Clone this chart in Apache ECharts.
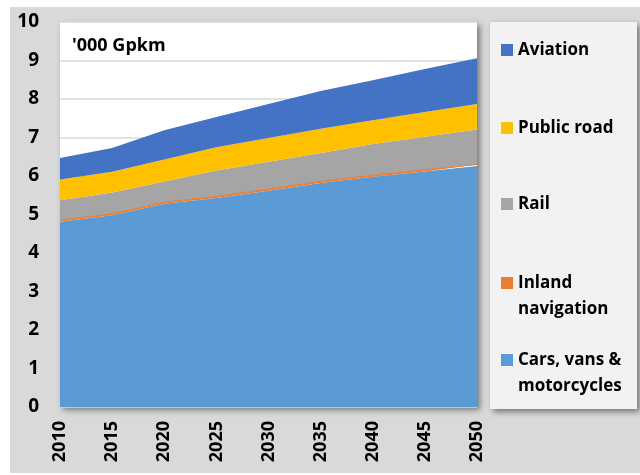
<!DOCTYPE html>
<html><head><meta charset="utf-8">
<script src="https://cdn.jsdelivr.net/npm/echarts@6/dist/echarts.min.js"></script>
<style>
html,body{margin:0;padding:0;background:#fff;}
#bg{position:absolute;left:10px;top:7px;width:630px;height:466px;background:#d9d9d9;}
#c{position:absolute;left:0;top:0;width:640px;height:475px;}
</style></head>
<body><div id="bg"></div><div id="c"></div>
<script>
const years = ['2010','2015','2020','2025','2030','2035','2040','2045','2050'];
const cars = [4.81, 4.98, 5.28, 5.43, 5.62, 5.82, 5.98, 6.12, 6.26];
const inland = [0.04, 0.04, 0.04, 0.04, 0.04, 0.04, 0.04, 0.04, 0.04];
const rail = [0.52, 0.55, 0.54, 0.67, 0.71, 0.74, 0.81, 0.86, 0.91];
const publicRoad = [0.54, 0.54, 0.57, 0.61, 0.62, 0.63, 0.62, 0.64, 0.66];
const aviation = [0.56, 0.62, 0.76, 0.78, 0.88, 0.98, 1.04, 1.12, 1.19];
const yTicks = [0,1,2,3,4,5,6,7,8,9,10];

const FONT = '"Open Sans", sans-serif';
const names = ['Cars, vans & motorcycles','Inland navigation','Rail','Public road','Aviation'];
const colors = ['#5b9bd5','#ed7d31','#a5a5a5','#ffc000','#4472c4'];
const dataArr = [cars, inland, rail, publicRoad, aviation];

const series = names.map((n,i)=>({
  name:n, type:'line', stack:'total', data:dataArr[i], showSymbol:false, symbol:'none',
  areaStyle:{color:colors[i], opacity:1},
  lineStyle:{width: i===1 ? 1 : 0, color:colors[i]},
  itemStyle:{color:colors[i]},
  emphasis:{disabled:true}, silent:true, animation:false
}));

const legendLabels = {
  'Aviation':'Aviation','Public road':'Public road','Rail':'Rail',
  'Inland navigation':'\u00a0\nInland\nnavigation','Cars, vans & motorcycles':'\u00a0\nCars, vans &\nmotorcycles'
};
const legendTops = {'Aviation':37,'Public road':115,'Rail':191,'Inland navigation':244,'Cars, vans & motorcycles':321};
const legends = ['Aviation','Public road','Rail','Inland navigation','Cars, vans & motorcycles'].map(n=>({
    data:[n], left:501, top:legendTops[n], orient:'vertical', selectedMode:false, z:10,
    itemWidth:12, itemHeight:12, itemGap:0, icon:'rect', padding:0,
    formatter: ()=>legendLabels[n],
    textStyle:{fontFamily:FONT, fontWeight:'bold', fontSize:17, color:'#000', lineHeight:26}
}));

const chart = echarts.init(document.getElementById('c'), null, {renderer:'canvas'});
chart.setOption({
  animation:false,
  backgroundColor:'transparent',
  title:{text:"'000 Gpkm", left:72, top:37, padding:0,
    textStyle:{fontFamily:FONT, fontWeight:'bold', fontSize:18, color:'#000'}},
  legend: legends,
  graphic:[{type:'rect', shape:{x:490,y:22,width:147,height:387}, z:1,
    style:{fill:'#f2f2f2', shadowBlur:6, shadowOffsetX:3, shadowOffsetY:3, shadowColor:'rgba(0,0,0,0.45)'}}],
  grid:{left:60, top:22, right:163, bottom:68, show:true, backgroundColor:'#fff', borderWidth:0,
    shadowBlur:6, shadowOffsetX:3, shadowOffsetY:3, shadowColor:'rgba(0,0,0,0.45)'},
  xAxis:{type:'category', data:years, boundaryGap:false,
    axisLine:{show:false}, axisTick:{show:false},
    axisLabel:{rotate:90, margin:14, fontFamily:FONT, fontWeight:'bold', fontSize:18, color:'#000', interval:0}},
  yAxis:{type:'value', min:0, max:10, interval:1,
    axisLine:{show:false}, axisTick:{show:false},
    splitLine:{show:true, lineStyle:{color:'#d9d9d9', width:1.5}},
    axisLabel:{margin:21, fontFamily:FONT, fontWeight:'bold', fontSize:19, color:'#000',
      formatter:(v)=> yTicks.indexOf(v)>=0 ? String(v) : ''}},
  series: series
});
</script></body></html>
